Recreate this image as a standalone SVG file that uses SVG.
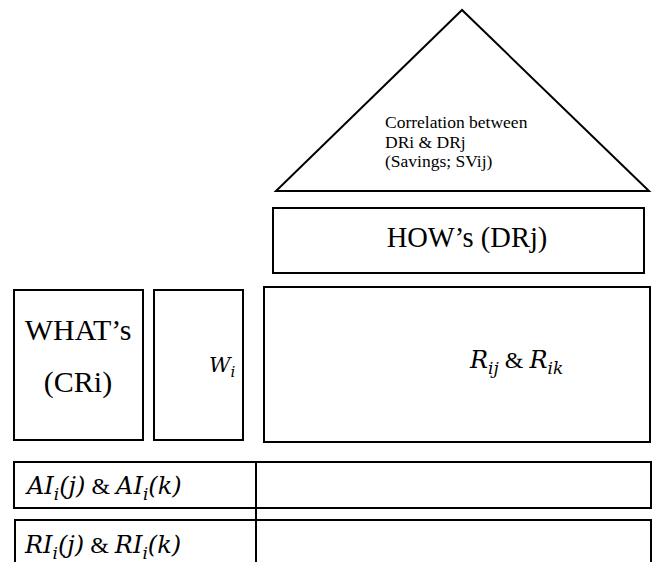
<svg xmlns="http://www.w3.org/2000/svg" width="655" height="562" viewBox="0 0 655 562">
  <style>
    .frame { fill: #ffffff; stroke: #000000; stroke-width: 2; }
    .rule { stroke: #000000; stroke-width: 2; fill: none; }
    .txt { font-family: "Liberation Serif", "Times New Roman", serif; fill: #000000; }
    .math { font-family: "DejaVu Serif", "Liberation Serif", serif; font-style: italic; fill: #000000; }
    .up { font-family: "Liberation Serif", serif; font-style: normal; }
  </style>
  <rect width="655" height="562" fill="#ffffff"/>

  <!-- roof: correlation matrix -->
  <g id="roof">
    <polygon class="frame" points="462,10 276,191 649,191"/>
    <text class="txt" font-size="17.5" x="385" y="128">Correlation between</text>
    <text class="txt" font-size="17.5" x="385" y="148">DRi &amp; DRj</text>
    <text class="txt" font-size="17.5" x="385" y="167">(Savings; SVij)</text>
  </g>

  <!-- technical requirements -->
  <g id="hows">
    <rect class="frame" x="273" y="208" width="371" height="65"/>
    <text class="txt" font-size="28.5" x="467" y="247" text-anchor="middle">HOW’s (DRj)</text>
  </g>

  <!-- customer requirements -->
  <g id="whats">
    <rect class="frame" x="14" y="290" width="129" height="150"/>
    <text class="txt" font-size="30" x="78" y="340" text-anchor="middle">WHAT’s</text>
    <text class="txt" font-size="30" x="78" y="392" text-anchor="middle">(CRi)</text>
  </g>

  <!-- weights -->
  <g id="weights">
    <rect class="frame" x="154" y="290" width="89" height="150"/>
    <text class="math" font-size="21" x="209" y="372">W<tspan font-size="15" dy="5">i</tspan></text>
  </g>

  <!-- relationship matrix -->
  <g id="relations">
    <rect class="frame" x="264" y="287" width="386" height="155"/>
    <text class="math" font-size="24" x="470" y="368">R<tspan font-size="17" dy="6">ij</tspan><tspan class="up" dy="-6"> &amp; </tspan>R<tspan font-size="17" dy="6">ik</tspan></text>
  </g>

  <!-- absolute importance row -->
  <g id="absolute-importance">
    <rect class="frame" x="14" y="462" width="637" height="46"/>
    <text class="math" font-size="24" x="27" y="494">AI<tspan font-size="17" dy="6">i</tspan><tspan dy="-6">(j)</tspan><tspan class="up"> &amp; </tspan>AI<tspan font-size="17" dy="6">i</tspan><tspan dy="-6">(k)</tspan></text>
  </g>

  <!-- relative importance row -->
  <g id="relative-importance">
    <path class="rule" d="M15,575 V520 H651 V575"/>
    <text class="math" font-size="24" x="25" y="553">RI<tspan font-size="17" dy="6">i</tspan><tspan dy="-6">(j)</tspan><tspan class="up"> &amp; </tspan>RI<tspan font-size="17" dy="6">i</tspan><tspan dy="-6">(k)</tspan></text>
  </g>

  <!-- column divider shared by both bottom rows -->
  <line class="rule" x1="256" y1="462" x2="256" y2="562"/>
</svg>
